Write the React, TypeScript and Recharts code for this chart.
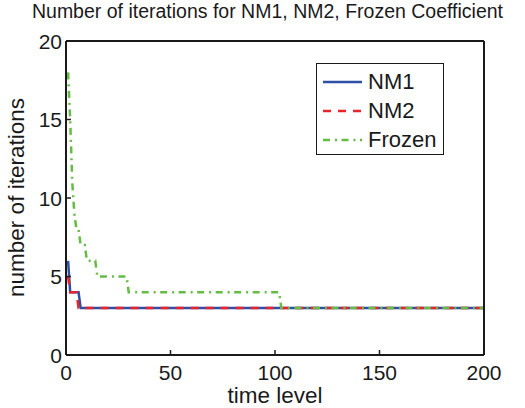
import { Legend, Line, LineChart, XAxis, YAxis } from 'recharts';

// time levels where the iteration count changes (straight segments between them)
const levelsNM1 = [1, 2, 6, 7, 200];
const itersNM1 = [6, 4, 4, 3, 3];
const levelsNM2 = [1, 2, 5, 6, 200];
const itersNM2 = [5, 4, 4, 3, 3];
const levelsFrozen = [1, 2, 3, 4, 5, 6, 7, 9, 10, 14, 15, 29, 30, 102, 103, 200];
const itersFrozen = [18, 15, 11, 9, 8, 8, 7, 7, 6, 6, 5, 5, 4, 4, 3, 3];

const xTicks = [0, 50, 100, 150, 200];
const yTicks = [0, 5, 10, 15, 20];

const FONT = '"Liberation Sans", Arial, Helvetica, sans-serif';
const INK = '#1a1a1a';

const toRows = (levels: number[], iters: number[]) => levels.map((l, i) => ({ level: l, iter: iters[i] }));

const series = [
  { name: 'NM1', data: toRows(levelsNM1, itersNM1), color: '#2f4fa6', dash: undefined },
  { name: 'NM2', data: toRows(levelsNM2, itersNM2), color: '#e8232b', dash: '8 7' },
  { name: 'Frozen', data: toRows(levelsFrozen, itersFrozen), color: '#66bb44', dash: '7 5 2 4.5' },
];

// ticks point inward, like the matlab box axes
const BottomTick = ({ x, y, payload }: any) => (
  <g>
    <line x1={x} y1={y} x2={x} y2={y - 5} stroke={INK} strokeWidth={1.5} />
    <text x={x} y={y + 25} textAnchor="middle" fontSize={21} fill={INK}>{payload.value}</text>
  </g>
);
const TopTick = ({ x, y }: any) => <line x1={x} y1={y} x2={x} y2={y + 5} stroke={INK} strokeWidth={1.5} />;
const LeftTick = ({ x, y, payload }: any) => (
  <g>
    <line x1={x} y1={y} x2={x + 5} y2={y} stroke={INK} strokeWidth={1.5} />
    <text x={x - 4} y={y + 7.5} textAnchor="end" fontSize={21} fill={INK}>{payload.value}</text>
  </g>
);
const RightTick = ({ x, y }: any) => <line x1={x} y1={y} x2={x - 5} y2={y} stroke={INK} strokeWidth={1.5} />;

function LegendBox() {
  return (
    <div style={{ width: 126, height: 87, border: `1.5px solid ${INK}`, background: '#fff', paddingTop: 3, boxSizing: 'content-box' }}>
      {series.map((s) => (
        <div key={s.name} style={{ display: 'flex', alignItems: 'center', height: 29, fontSize: 22, color: INK, fontFamily: FONT }}>
          <svg width={45} height={10} style={{ marginLeft: 6 }}>
            <line x1={0} y1={5} x2={39} y2={5} stroke={s.color} strokeWidth={2.5} strokeDasharray={s.dash} />
          </svg>
          <span>{s.name}</span>
        </div>
      ))}
    </div>
  );
}

export default function App() {
  return (
    <div style={{ position: 'absolute', left: 0, top: 0, width: 525, height: 408, background: '#fff', fontFamily: FONT }}>
      <LineChart width={525} height={408} margin={{ top: 40, right: 40, bottom: 23, left: 26 }}>
        <XAxis dataKey="level" type="number" domain={[0, 200]} ticks={xTicks} height={30}
          axisLine={{ stroke: INK, strokeWidth: 2 }} tickLine={false} tickSize={0} tickMargin={0} tick={<BottomTick />} />
        <XAxis xAxisId="top" orientation="top" dataKey="level" type="number" domain={[0, 200]} ticks={xTicks} height={1}
          axisLine={{ stroke: INK, strokeWidth: 2 }} tickLine={false} tickSize={0} tickMargin={0} tick={<TopTick />} />
        <YAxis type="number" domain={[0, 20]} ticks={yTicks} width={40}
          axisLine={{ stroke: INK, strokeWidth: 2 }} tickLine={false} tickSize={0} tickMargin={0} tick={<LeftTick />} />
        <YAxis yAxisId="right" orientation="right" type="number" domain={[0, 20]} ticks={yTicks} width={1}
          axisLine={{ stroke: INK, strokeWidth: 2 }} tickLine={false} tickSize={0} tickMargin={0} tick={<RightTick />} />
        {series.map((s) => (
          <Line key={s.name} data={s.data} dataKey="iter" name={s.name} type="linear" stroke={s.color}
            strokeWidth={2.5} strokeDasharray={s.dash} dot={false} activeDot={false} isAnimationActive={false} />
        ))}
        <Legend layout="vertical" align="center" verticalAlign="middle" content={<LegendBox />}
          wrapperStyle={{ left: 316, top: 63, width: 'auto' }} />
      </LineChart>
      <svg width={525} height={408} style={{ position: 'absolute', left: 0, top: 0, pointerEvents: 'none' }}>
        <text x={267.5} y={17.5} textAnchor="middle" fontSize={19.5} fill={INK}>
          Number of iterations for NM1, NM2, Frozen Coefficient
        </text>
        <text x={275} y={403} textAnchor="middle" fontSize={22.5} fill={INK}>time level</text>
        <text x={24} y={197.5} textAnchor="middle" fontSize={22.5} fill={INK} transform="rotate(-90 24 197.5)">
          number of iterations
        </text>
      </svg>
    </div>
  );
}
